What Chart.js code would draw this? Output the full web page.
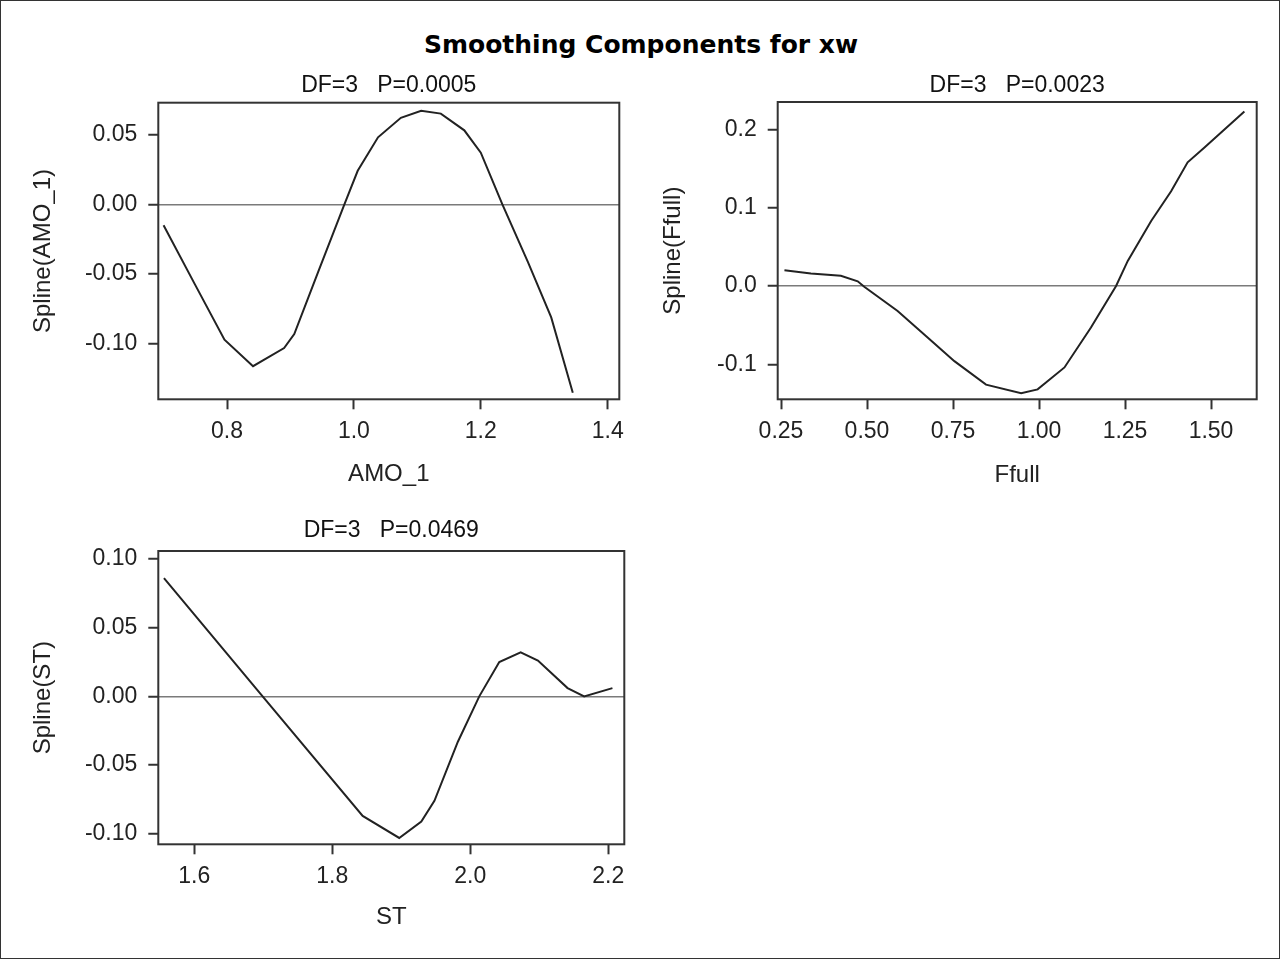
<!DOCTYPE html>
<html>
<head>
<meta charset="utf-8">
<title>Smoothing Components for xw</title>
<script src="https://cdn.jsdelivr.net/npm/chart.js@4.4.1/dist/chart.umd.min.js"></script>
<style>
  body { margin: 0; background: #fff; }
  #page {
    position: relative;
    width: 1280px;
    height: 959px;
    box-sizing: border-box;
    border: 1px solid #333;
    background: #fff;
    overflow: hidden;
  }
  #mainTitle {
    position: absolute;
    left: 0;
    width: 1280px;
    top: 28px;
    line-height: 32px;
    text-align: center;
    font-family: "DejaVu Sans", sans-serif;
    font-weight: bold;
    font-size: 25px;
    color: #000;
  }
  canvas { position: absolute; }
</style>
</head>
<body>
<div id="page">
  <div id="mainTitle">Smoothing Components for xw</div>
  <canvas id="amoChart" width="640" height="440" style="left:0;top:60px"></canvas>
  <canvas id="ffullChart" width="640" height="440" style="left:640px;top:60px"></canvas>
  <canvas id="stChart" width="640" height="440" style="left:0;top:500px"></canvas>
</div>

<script>
/* =========================
   DATA
========================= */

// AMO_1 panel
const amoX = [0.700, 0.749, 0.796, 0.841, 0.890, 0.906, 0.944, 0.985, 1.006, 1.038,
              1.074, 1.106, 1.137, 1.174, 1.200, 1.234, 1.274, 1.311, 1.345];
const amoY = [-0.015, -0.057, -0.097, -0.116, -0.103, -0.093, -0.048, 0.000, 0.024, 0.048,
              0.062, 0.067, 0.065, 0.053, 0.037, 0.000, -0.041, -0.081, -0.135];
const amoXTicks = [0.8, 1.0, 1.2, 1.4];
const amoYTicks = [-0.10, -0.05, 0.00, 0.05];

// Ffull panel
const ffullX = [0.260, 0.337, 0.424, 0.473, 0.492, 0.589, 0.677, 0.754, 0.846, 0.948,
                0.996, 1.074, 1.151, 1.224, 1.258, 1.326, 1.384, 1.432, 1.481, 1.597];
const ffullY = [0.020, 0.016, 0.013, 0.006, -0.001, -0.032, -0.066, -0.096, -0.126, -0.137,
                -0.132, -0.104, -0.053, 0.000, 0.032, 0.083, 0.121, 0.158, 0.177, 0.223];
const ffullXTicks = [0.25, 0.50, 0.75, 1.00, 1.25, 1.50];
const ffullYTicks = [-0.1, 0.0, 0.1, 0.2];

// ST panel
const stX = [1.556, 1.699, 1.844, 1.897, 1.929, 1.948, 1.982, 2.013, 2.042, 2.073,
             2.098, 2.141, 2.165, 2.206];
const stY = [0.086, 0.000, -0.087, -0.103, -0.091, -0.076, -0.033, 0.000, 0.025, 0.032,
             0.026, 0.006, 0.000, 0.006];
const stXTicks = [1.6, 1.8, 2.0, 2.2];
const stYTicks = [-0.10, -0.05, 0.00, 0.05, 0.10];

const subtitles = ["DF=3   P=0.0005", "DF=3   P=0.0023", "DF=3   P=0.0469"];

/* =========================
   PLOT BOX PLUGIN
========================= */

const frameBox = {
    id: "frameBox",
    afterDatasetsDraw(chart){
        const a = chart.chartArea;
        const ctx = chart.ctx;
        ctx.save();
        ctx.strokeStyle = "#333";
        ctx.lineWidth = 2;
        ctx.strokeRect(a.left, a.top, a.right - a.left, a.bottom - a.top);
        ctx.restore();
    }
};

/* =========================
   PANEL BUILDER
========================= */

const FONT = "'Liberation Sans', Arial, sans-serif";

function makePanel(id, opts){

    const points = opts.xs.map((x, i) => ({ x: x, y: opts.ys[i] }));

    return new Chart(document.getElementById(id), {

        type: "line",

        data: {
            datasets: [{
                data: points,
                borderColor: "#222",
                borderWidth: 2,
                pointRadius: 0,
                tension: 0,
                fill: false
            }]
        },

        options: {

            responsive: false,
            animation: false,
            events: [],

            layout: {
                padding: { top: 0, left: 0, bottom: 0, right: opts.padRight }
            },

            plugins: {
                legend: { display: false },
                tooltip: { enabled: false },
                title: {
                    display: true,
                    fullSize: false,
                    text: opts.subtitle,
                    color: "#111",
                    font: { family: FONT, size: 23, weight: "normal", lineHeight: 1.2 },
                    padding: { top: opts.subTop, bottom: opts.subBottom }
                }
            },

            scales: {

                x: {
                    type: "linear",
                    min: opts.xMin,
                    max: opts.xMax,
                    afterBuildTicks: s => { s.ticks = opts.xTicks.map(v => ({ value: v })); },
                    afterFit: s => { s.height = opts.xAxisH; },
                    border: { display: false },
                    grid: {
                        color: "transparent",
                        tickColor: "#333",
                        tickLength: 10,
                        tickWidth: 2
                    },
                    ticks: {
                        color: "#222",
                        padding: 9,
                        maxRotation: 0,
                        font: { family: FONT, size: 23, lineHeight: 1.2 },
                        callback: v => v.toFixed(opts.xDec)
                    },
                    title: {
                        display: true,
                        text: opts.xTitle,
                        color: "#222",
                        font: { family: FONT, size: 24, lineHeight: 1.2 },
                        padding: { top: 0, bottom: opts.xTitlePad }
                    }
                },

                y: {
                    type: "linear",
                    min: opts.yMin,
                    max: opts.yMax,
                    afterBuildTicks: s => { s.ticks = opts.yTicks.map(v => ({ value: v })); },
                    afterFit: s => { s.width = opts.yAxisW; },
                    border: { display: false },
                    grid: {
                        color: c => (c.tick && Math.abs(c.tick.value) < 1e-9) ? "#7a7a7a" : "transparent",
                        lineWidth: 1.5,
                        tickColor: "#333",
                        tickLength: 10,
                        tickWidth: 2
                    },
                    ticks: {
                        color: "#222",
                        padding: 11,
                        font: { family: FONT, size: 23, lineHeight: 1.2 },
                        callback: v => v.toFixed(opts.yDec)
                    },
                    title: {
                        display: true,
                        text: opts.yTitle,
                        color: "#222",
                        font: { family: FONT, size: 24, lineHeight: 1.2 },
                        padding: { top: opts.yTitlePad, bottom: 0 }
                    }
                }

            }

        },

        plugins: [frameBox]

    });

}

/* =========================
   PANELS
========================= */

makePanel("amoChart", {
    xs: amoX, ys: amoY,
    xTicks: amoXTicks, yTicks: amoYTicks,
    xMin: 0.6917, xMax: 1.4183, yMin: -0.1397, yMax: 0.0728,
    xDec: 1, yDec: 2,
    xTitle: "AMO_1", yTitle: "Spline(AMO_1)",
    subtitle: subtitles[0],
    subTop: 11.2, subBottom: 2.9,
    yAxisW: 157.3, xAxisH: 101.7, padRight: 21.7,
    xTitlePad: 12.6, yTitlePad: 27.6
});

makePanel("ffullChart", {
    xs: ffullX, ys: ffullY,
    xTicks: ffullXTicks, yTicks: ffullYTicks,
    xMin: 0.2404, xMax: 1.6328, yMin: -0.1447, yMax: 0.235,
    xDec: 2, yDec: 1,
    xTitle: "Ffull", yTitle: "Spline(Ffull)",
    subtitle: subtitles[1],
    subTop: 11.2, subBottom: 2.2,
    yAxisW: 136.7, xAxisH: 101.7, padRight: 24.3,
    xTitlePad: 11.6, yTitlePad: 17.6
});

makePanel("stChart", {
    xs: stX, ys: stY,
    xTicks: stXTicks, yTicks: stYTicks,
    xMin: 1.5478, xMax: 2.2232, yMin: -0.1076, yMax: 0.1057,
    xDec: 1, yDec: 2,
    xTitle: "ST", yTitle: "Spline(ST)",
    subtitle: subtitles[2],
    subTop: 16.2, subBottom: 6.2,
    yAxisW: 157.3, xAxisH: 96.7, padRight: 16.7,
    xTitlePad: 9.6, yTitlePad: 27.6
});
</script>
</body>
</html>
